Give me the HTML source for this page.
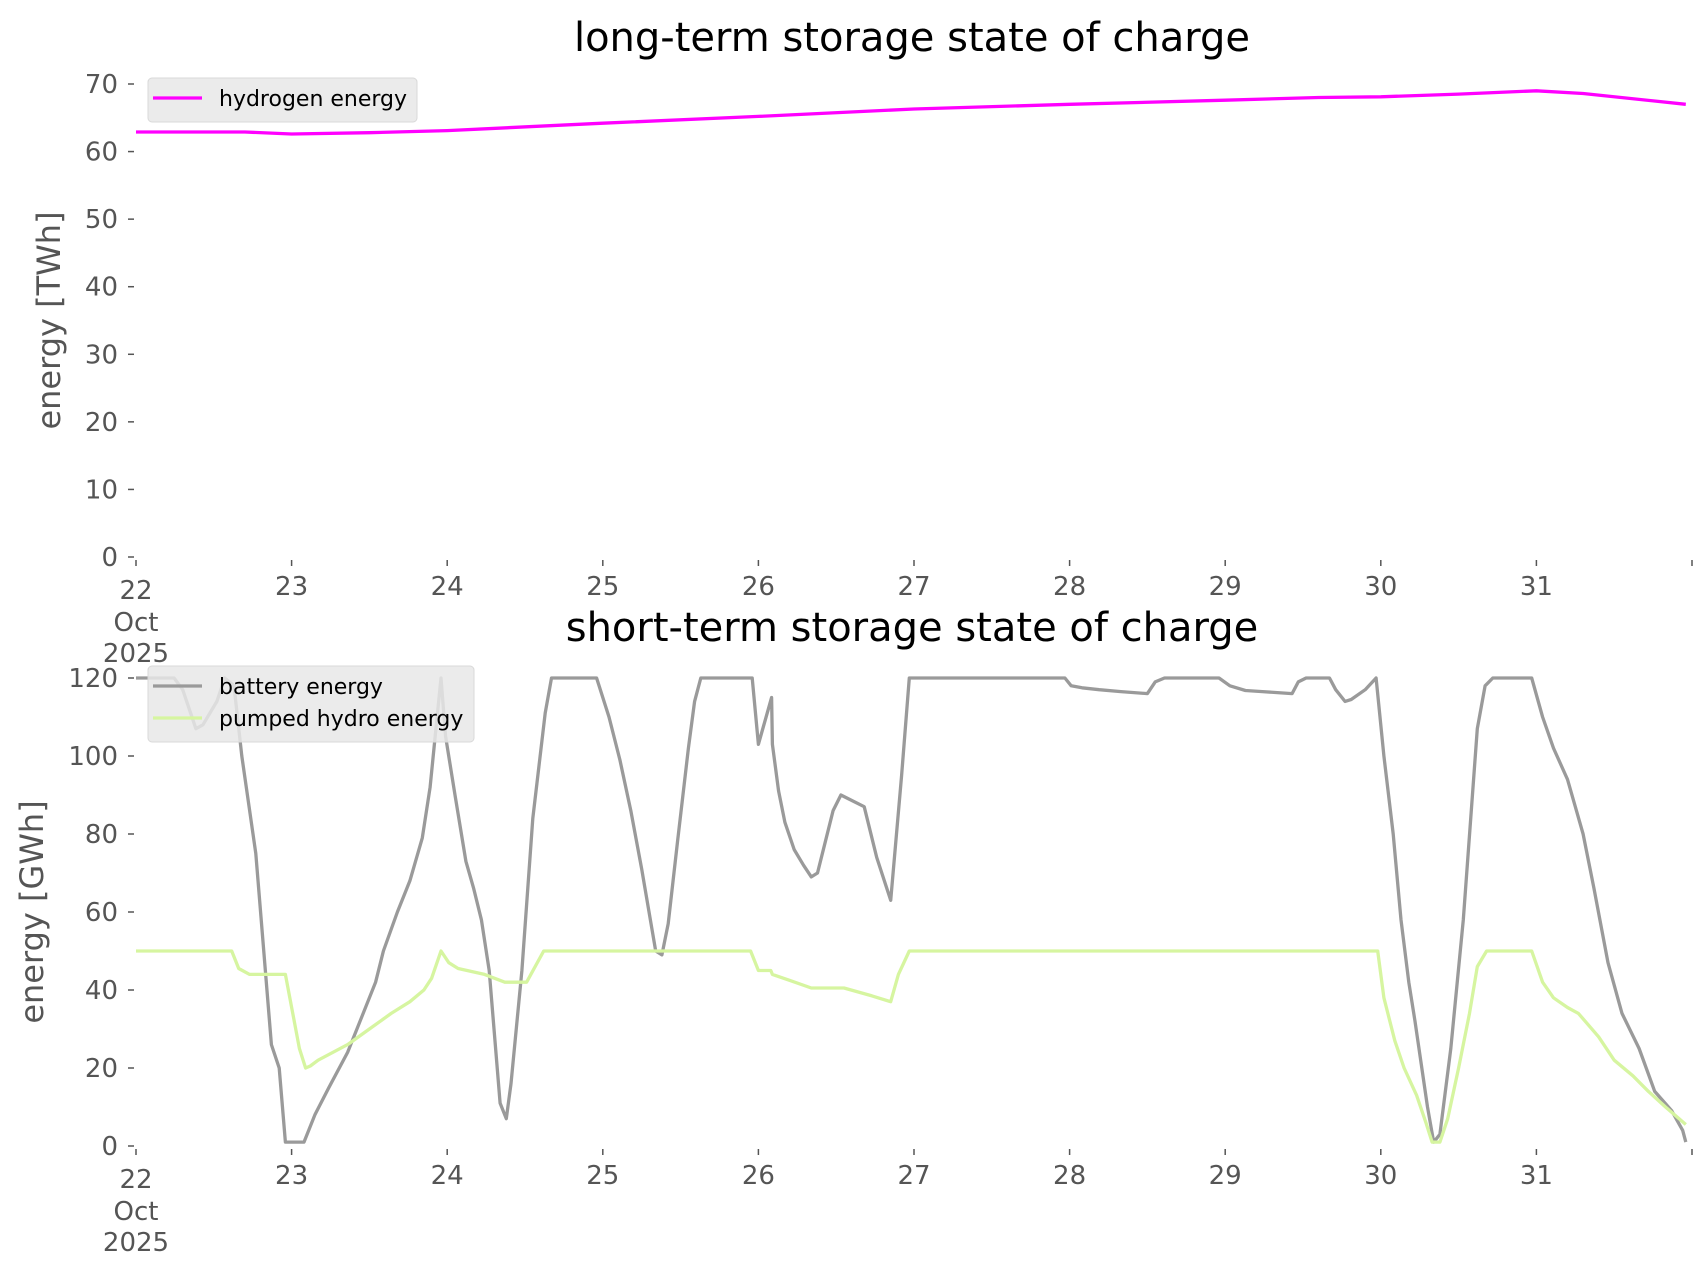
<!DOCTYPE html>
<html><head><meta charset="utf-8"><style>
html,body{margin:0;padding:0;background:#fff;}
svg{display:block;font-family:"DejaVu Sans","Liberation Sans",sans-serif;}
</style></head><body>
<svg id="chart" width="1706" height="1277" viewBox="0 0 1706 1277" xmlns="http://www.w3.org/2000/svg">
<rect width="1706" height="1277" fill="#fff"/>
<g id="top"></g>
<g id="bot"></g>
</svg>
<script>
// x positions in days after 22 Oct 2025 00:00
const xTickLabels = ["22","23","24","25","26","27","28","29","30","31",""];
const topYTicks = [0,10,20,30,40,50,60,70];
const botYTicks = [0,20,40,60,80,100,120];

const hydrogenDays = [0,0.7,1.0,1.5,2.0,3.0,4.0,5.0,6.0,7.0,7.6,8.0,8.5,9.0,9.3,9.96];
const hydrogenTWh  = [62.9,62.9,62.6,62.8,63.1,64.2,65.2,66.3,67.0,67.6,68.0,68.1,68.5,69.0,68.6,67.0];

const batteryDays = [0,0.245,0.30,0.385,0.43,0.52,0.57,0.63,0.68,0.77,0.87,0.92,0.96,1.08,1.15,1.24,1.36,1.45,1.54,1.59,1.68,1.76,1.84,1.89,1.96,1.99,2.05,2.12,2.17,2.22,2.27,2.34,2.38,2.41,2.48,2.55,2.63,2.67,2.96,3.04,3.11,3.18,3.25,3.34,3.38,3.42,3.48,3.55,3.59,3.63,3.96,4.00,4.085,4.09,4.13,4.17,4.23,4.29,4.34,4.38,4.43,4.48,4.53,4.58,4.68,4.76,4.85,4.92,4.97,5.97,6.01,6.08,6.19,6.33,6.50,6.55,6.61,6.96,7.03,7.13,7.24,7.43,7.47,7.52,7.67,7.71,7.77,7.81,7.90,7.97,8.02,8.08,8.13,8.18,8.22,8.30,8.34,8.38,8.45,8.53,8.62,8.67,8.72,8.97,9.04,9.11,9.20,9.25,9.30,9.37,9.46,9.55,9.66,9.76,9.87,9.94,9.96];
const batteryGWh  = [120,120,117,107,108,114,120,118,100,75,26,20,1,1,8,15,24,33,42,50,60,68,79,92,120,105,90,73,66,58,45,11,7,16,45,84,111,120,120,110,99,86,71,50,49,57,78,102,114,120,120,103,115,103,91,83,76,72,69,70,78,86,90,89,87,74,63,95,120,120,118,117.5,117,116.5,116,119,120,120,118,116.8,116.5,116,119,120,120,117,114,114.5,117,120,100,80,58,42,32,10,1,3,25,58,107,118,120,120,110,102,94,87,80,66,47,34,25,14,9,4,1];

const hydroDays = [0,0.615,0.66,0.73,0.96,1.05,1.09,1.12,1.17,1.36,1.50,1.64,1.76,1.85,1.90,1.96,2.01,2.07,2.24,2.37,2.51,2.62,3.95,4.00,4.08,4.09,4.20,4.34,4.55,4.73,4.85,4.90,4.97,7.98,8.02,8.09,8.15,8.23,8.29,8.33,8.38,8.43,8.50,8.57,8.62,8.68,8.97,9.04,9.11,9.20,9.27,9.40,9.50,9.62,9.72,9.83,9.96];
const hydroGWh  = [50,50,45.5,44,44,25,20,20.5,22,26,30,34,37,40,43,50,47,45.5,44,42,42,50,50,45,45,44,42.5,40.5,40.5,38.5,37,44,50,50,38,27,20,13,6,1,1,7,20,34,46,50,50,42,38,35.5,34,28,22,18,14,10,5.5];

const NS="http://www.w3.org/2000/svg";
const X0=136, DAY=155.6;
function xs(d){return X0+d*DAY;}
function mk(tag,attrs,parent,txt){const e=document.createElementNS(NS,tag);for(const k in attrs)e.setAttribute(k,attrs[k]);if(txt!==undefined)e.textContent=txt;parent.appendChild(e);return e;}

function panel(g,opt){
  const ys=v=>opt.y0+(opt.yTop-opt.y0)*v/opt.vTop;
  const t=mk('text',{x:912,y:opt.titleY,'text-anchor':'middle','font-size':40,fill:'#000'},g,opt.title);
  
  
  const yl=mk('text',{x:0,y:0,'text-anchor':'middle','font-size':32,fill:'#555',transform:`translate(${opt.ylX},${(opt.y0+opt.yTop)/2}) rotate(-90)`},g,opt.ylabel);
  
  
  opt.yTicks.forEach(v=>{
    const y=ys(v);
    const l=mk('line',{x1:128,x2:134,y1:y,y2:y,stroke:'#555','stroke-width':1.5},g);
    
    
    const tx=mk('text',{x:118,y:y+9,'text-anchor':'end','font-size':26,fill:'#555'},g,String(v));
    
    
  });
  xTickLabels.forEach((lab,i)=>{
    const x=xs(i);
    const l=mk('line',{x1:x,x2:x,y1:opt.y0+3,y2:opt.y0+9,stroke:'#555','stroke-width':1.5},g);
    
    
    if(lab){
      const tx=mk('text',{x:x,y:opt.y0+(i===0?42:38),'text-anchor':'middle','font-size':26,fill:'#555'},g,lab);
      
      
    }
    if(i===0){
      const a=mk('text',{x:x,y:opt.y0+74,'text-anchor':'middle','font-size':26,fill:'#555'},g,'Oct');
      
      
      const b=mk('text',{x:x,y:opt.y0+105,'text-anchor':'middle','font-size':26,fill:'#555'},g,'2025');
      
      
    }
  });
  opt.series.forEach(s=>{
    const pts=s.days.map((d,i)=>xs(d).toFixed(1)+','+ys(s.vals[i]).toFixed(1)).join(' ');
    const p=mk('polyline',{points:pts,fill:'none',stroke:s.color,'stroke-width':3.3,'stroke-linejoin':'round'},g);
    
    
  });
  const lg=mk('g',{},g);
  
  
  mk('rect',{x:148,y:opt.legY,width:opt.legW,height:12+opt.series.length*32,rx:4,fill:'#e8e8e8','fill-opacity':0.85,stroke:'#d8d8d8','stroke-width':1},lg);
  opt.series.forEach((s,i)=>{
    const cy=opt.legY+20+i*32;
    const ln=mk('line',{x1:153,x2:202,y1:cy,y2:cy,stroke:s.color,'stroke-width':3.3},lg);
    
    
    const tx=mk('text',{x:219,y:cy+8,'font-size':22,fill:'#000'},lg,s.label);
    
    
  });
}

panel(document.getElementById('top'),{
  title:'long-term storage state of charge',titleY:51,ylabel:'energy [TWh]',ylX:60,
  y0:557,yTop:84,vTop:70,yTicks:topYTicks,legY:78,legW:269,
  series:[{name:'hydrogen',label:'hydrogen energy',color:'#ff00ff',days:hydrogenDays,vals:hydrogenTWh}]
});
panel(document.getElementById('bot'),{
  title:'short-term storage state of charge',titleY:641,ylabel:'energy [GWh]',ylX:43,
  y0:1146,yTop:678,vTop:120,yTicks:botYTicks,legY:666,legW:326,
  series:[
    {name:'battery',label:'battery energy',color:'#9a9a9a',days:batteryDays,vals:batteryGWh},
    {name:'pumped-hydro',label:'pumped hydro energy',color:'#d6f5a0',days:hydroDays,vals:hydroGWh}
  ]
});
</script>
</body></html>
